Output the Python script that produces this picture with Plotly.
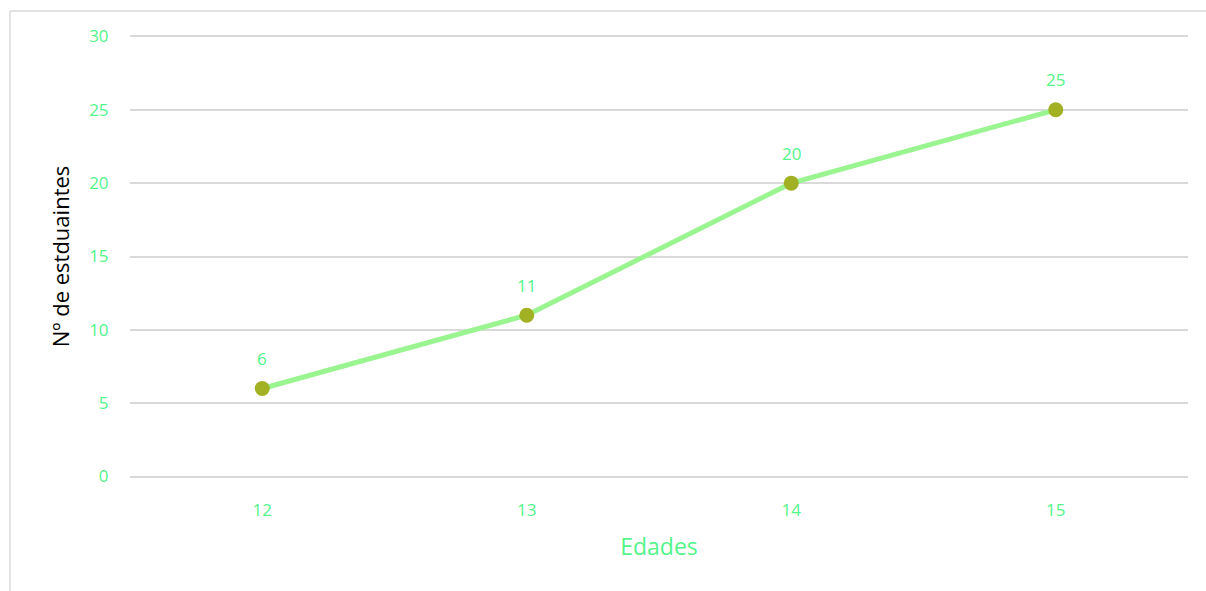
import plotly.graph_objects as go

edades = ["12", "13", "14", "15"]
estudiantes = [6, 11, 20, 25]
y_ticks = [0, 5, 10, 15, 20, 25, 30]

GREEN_TXT = "#52f58a"
LINE = "#9af590"
MARK = "#a2b124"
GRID = "#d9d9d9"
FONT = "Open Sans"

fig = go.Figure()
fig.add_trace(go.Scatter(
    x=edades, y=estudiantes,
    mode="lines+markers",
    line=dict(color=LINE, width=5),
    marker=dict(color=MARK, size=15),
    cliponaxis=False,
    hoverinfo="skip",
))

for i, yv in enumerate(estudiantes):
    fig.add_annotation(x=i, y=yv, xref="x", yref="y", text=str(yv), showarrow=False,
                       yshift=30, font=dict(color=GREEN_TXT, size=17, family=FONT))

bx = (10 - 130) / 1058
by = (477 - 12) / 441

fig.update_layout(
    width=1206, height=591,
    margin=dict(l=130, r=18, t=34.5, b=112.5),
    paper_bgcolor="white", plot_bgcolor="white",
    showlegend=False,
    font=dict(family=FONT),
    xaxis=dict(
        type="category", range=[-0.5, 3.5],
        showgrid=False, zeroline=False, showline=False,
        ticks="outside", ticklen=17, tickcolor="rgba(0,0,0,0)",
        tickfont=dict(color=GREEN_TXT, size=17, family=FONT),
        title=dict(text="Edades", font=dict(color=GREEN_TXT, size=23, family=FONT), standoff=18),
    ),
    yaxis=dict(
        range=[-0.1, 30.1], tickvals=y_ticks,
        showgrid=True, gridcolor=GRID, gridwidth=1.5,
        zeroline=False, showline=False,
        ticks="outside", ticklen=17, tickcolor="rgba(0,0,0,0)",
        tickfont=dict(color=GREEN_TXT, size=17, family=FONT),
        title=dict(text="Nº de estduaintes", font=dict(color="black", size=22, family=FONT), standoff=13),
    ),
    shapes=[
        dict(type="line", xref="paper", yref="paper", x0=bx, x1=1.2, y0=by, y1=by,
             line=dict(color=GRID, width=1.5), layer="below"),
        dict(type="line", xref="paper", yref="paper", x0=bx, x1=bx, y0=by, y1=-0.5,
             line=dict(color=GRID, width=1.5), layer="below"),
    ],
)

fig.write_html("out.html", config={"displayModeBar": False})
